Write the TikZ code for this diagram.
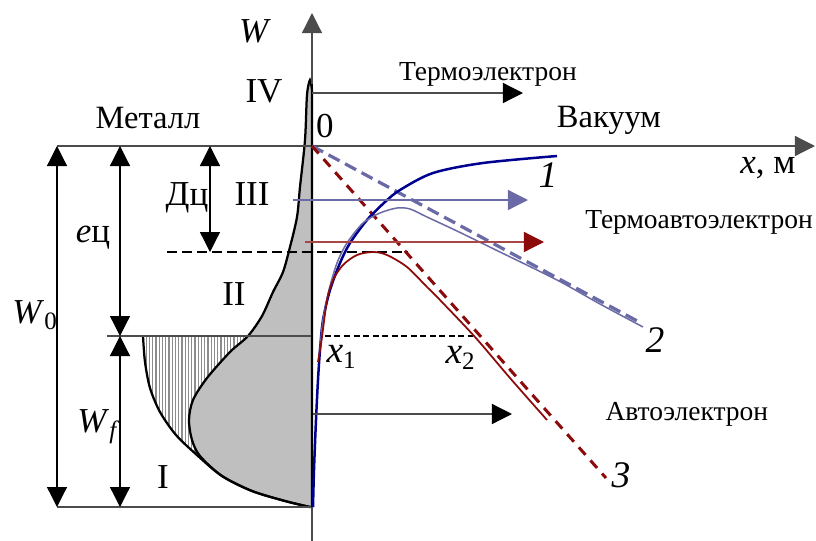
\documentclass[tikz,border=0pt]{standalone}
\usepackage{fontspec}
\setmainfont{Liberation Serif}
\newfontfamily\labelfont{Liberation Serif}
\usepackage{tikz}
\usetikzlibrary{arrows.meta,patterns.meta}
\definecolor{curveblue}{HTML}{00008F}
\definecolor{curvelilac}{HTML}{6A6AA6}
\definecolor{curvered}{HTML}{8C0A0A}
\newcommand{\lowidx}[1]{\raisebox{-2.4pt}{\fontsize{10}{10}\selectfont #1}}

\begin{document}
\begin{tikzpicture}[x=0.4pt, y=-0.4pt,
        biglabel/.style={font=\labelfont\fontsize{14}{16}\selectfont, inner sep=0pt, anchor=base},
        numlabel/.style={font=\labelfont\fontsize{15}{17}\selectfont, inner sep=0pt, anchor=base},
        midlabel/.style={font=\labelfont\fontsize{13}{15}\selectfont, inner sep=0pt, anchor=base},
        smalllabel/.style={font=\labelfont\fontsize{11}{13}\selectfont, inner sep=0pt, anchor=base},
        dimarrow/.style={draw=black, line width=0.5pt, {Triangle[length=8pt,width=8pt]}-{Triangle[length=8pt,width=8pt]}},
        flowarrow/.style={line width=0.5pt, -{Triangle[length=8pt,width=8pt]}},
        axis/.style={draw=black!70, line width=0.5pt},
        contour/.style={draw=black, line width=0.9pt}
    ]
        \useasboundingbox (0,0) rectangle (816,541);

        \coordinate (O) at (312,146);
        \coordinate (fermi) at (312,336);
        \coordinate (barrier) at (312,252);
        \coordinate (bottom) at (312,507);
        \coordinate (wbase) at (312,541);
        \coordinate (wtip) at (312,13);
        \coordinate (xtip) at (815,146);
        \coordinate (fermileft) at (107,336);
        \coordinate (wzero) at (57,0);
        \coordinate (ecol) at (120,0);
        \coordinate (dcol) at (210,0);

        % electrons in the metal
        \fill[pattern={Lines[angle=90,distance=1.3pt,line width=0.5pt]}, pattern color=black!45]
            plot[smooth] coordinates {(143,336) (145,362) (150,388) (160,412) (176,435) (198,456) (222,476) (252,491) (285,501) (310,507)}
            -- (bottom) -- (fermi) -- cycle;
        \draw[contour, fill=gray!50]
            plot[smooth] coordinates {(312,90) (310,80) (307,95) (305,140) (300,187) (297,217) (290,247) (283,272) (273,292) (262,316) (248,336) (230,352) (207,378) (193,400) (189,420) (192,440) (200,456) (222,476) (252,491) (285,501) (310,507)}
            -- (bottom) -- cycle;
        \draw[contour] plot[smooth] coordinates {(143,336) (145,362) (150,388) (160,412) (176,435) (198,456) (222,476) (252,491) (285,501) (310,507)};

        \draw[axis, -{Triangle[length=8pt,width=8pt]}] (O -| wzero) -- (xtip);
        \draw[axis, -{Triangle[length=8pt,width=8pt]}] (wbase) -- (wtip);
        \draw[axis] (fermileft) -- (fermi);
        \draw[axis] (bottom -| wzero) -- (bottom);
        \draw[black, line width=1.1pt] (312,84) -- (bottom);

        \draw[dimarrow] (O -| wzero) -- (bottom -| wzero);
        \draw[dimarrow] (O -| ecol) -- (fermi -| ecol);
        \draw[dimarrow] (fermi -| ecol) -- (bottom -| ecol);
        \draw[dimarrow] (O -| dcol) -- (barrier -| dcol);

        \draw[black, line width=1pt, dash pattern=on 4pt off 2pt] (167,252) -- (408,252);
        \draw[black, line width=0.8pt, dash pattern=on 2.4pt off 1.4pt] (325,336) -- (473,336);

        % potential curves
        \draw[curvelilac, line width=1.3pt, dash pattern=on 5pt off 2.5pt] (O) -- (641,323);
        \draw[curvered, line width=1.2pt, dash pattern=on 4pt off 3pt] (O) -- (606,478);
        \draw[curveblue, line width=1pt] plot[smooth] coordinates {(313,507) (314,470) (316,420) (318,380) (320,350) (323,320) (330,290) (340,263) (350,243) (367,220) (385,202) (400,190) (433,173) (483,163) (557,156)};
        \draw[curvelilac, line width=0.6pt] plot[smooth] coordinates {(320,350) (323,320) (329,290) (337,263) (347,243) (363,223) (380,213) (397,208) (410,209) (427,217) (457,231) (500,252) (557,280) (600,304) (643,327)};
        \draw[curvered, line width=0.7pt] plot[smooth] coordinates {(318,362) (322,337) (327,300) (333,280) (343,265) (357,255) (373,252) (387,255) (407,267) (427,287) (440,300) (475,337) (510,378) (547,420)};

        \coordinate (thermostart) at (312,93);
        \coordinate (thermoend) at (523,93);
        \coordinate (tfestart) at (293,200);
        \coordinate (tfeend) at (528,200);
        \coordinate (fieldstart) at (305,242);
        \coordinate (fieldend) at (544,242);
        \coordinate (autostart) at (313,414);
        \coordinate (autoend) at (512,414);
        \draw[flowarrow, black!70, -{Triangle[length=8pt,width=8pt,fill=black,color=black]}] (thermostart) -- (thermoend);
        \draw[flowarrow, curvelilac] (tfestart) -- (tfeend);
        \draw[flowarrow, curvered!75, -{Triangle[length=8pt,width=8pt,fill=curvered,color=curvered]}] (fieldstart) -- (fieldend);
        \draw[flowarrow, black!70, -{Triangle[length=8pt,width=8pt,fill=black,color=black]}] (autostart) -- (autoend);

        \node[biglabel] (wlabel) at (255,42) {\textit{W}};
        \node[biglabel] (zone4) at (264,102) {IV};
        \node[biglabel] (zone3) at (252,205) {III};
        \node[biglabel] (zone2) at (234,305) {II};
        \node[biglabel] (zone1) at (163,488) {I};
        \node[biglabel] (origin) at (325,137) {0};
        \node[midlabel] (metal) at (148,128) {Металл};
        \node[midlabel] (vacuum) at (609,127) {Вакуум};
        \node[smalllabel] (thermo) at (488,80) {Термоэлектрон};
        \node[smalllabel] (thermofield) at (699,228) {Термоавтоэлектрон};
        \node[smalllabel, anchor=base west] (field) at (605,420) {Автоэлектрон};
        \node[biglabel] (xlabel) at (768,173) {\textit{x}, м};
        \node[biglabel] (dphi) at (187,205) {Дц};
        \node[biglabel] (ephi) at (93,242) {\textit{e}ц};
        \node[biglabel, anchor=base west] (wzerolabel) at (12,323) {\textit{W}\lowidx{0}};
        \node[biglabel, anchor=base west] (wflabel) at (77,432) {\textit{W}\lowidx{\textit{f}}};
        \node[numlabel, anchor=base west] (xone) at (326,362) {\textit{x}\lowidx{1}};
        \node[numlabel, anchor=base west] (xtwo) at (445,363) {\textit{x}\lowidx{2}};
        \node[numlabel] (curveone) at (548,187) {\textit{1}};
        \node[numlabel] (curvetwo) at (655,352) {\textit{2}};
        \node[numlabel] (curvethree) at (621,487) {\textit{3}};
    \end{tikzpicture}
\end{document}
